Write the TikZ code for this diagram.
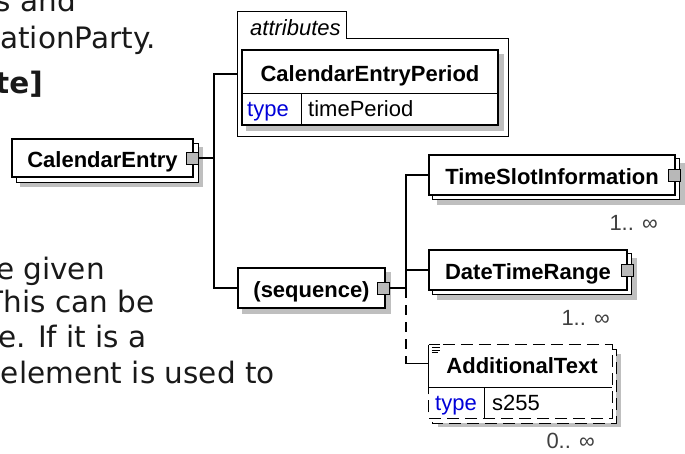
\documentclass[tikz,border=0pt]{standalone}
\usepackage{fontspec}
\setmainfont{Liberation Sans}
\newfontfamily\bgfont{DejaVu Sans}
\usetikzlibrary{backgrounds}
\begin{document}
\begin{tikzpicture}[x=1pt,y=-1pt,
  elbox/.style={draw, line width=1.2pt, fill=white, rectangle, inner sep=0pt,
    text height=18pt, text depth=0pt, font=\fontsize{22}{26}\selectfont\bfseries},
  plainbox/.style={draw, line width=1.2pt, fill=white, rectangle, inner sep=0pt},
  expander/.style={draw, line width=1pt, fill=black!28, rectangle,
    minimum width=12pt, minimum height=12pt, inner sep=0pt},
  conn/.style={line width=1.2pt},
  dconn/.style={line width=1.2pt, dash pattern=on 10pt off 7pt},
  dbox/.style={line width=1.2pt, dash pattern=on 12pt off 6pt},
  shadowc/.style={fill=black!25},
  lab/.style={font=\fontsize{22}{26}\selectfont, inner sep=0pt, anchor=base west},
  blab/.style={font=\fontsize{22}{26}\selectfont\bfseries, inner sep=0pt, anchor=base},
  bg/.style={font=\bgfont\fontsize{29.5}{35}\selectfont, inner sep=0pt, anchor=base east, text=black!90},
  card/.style={font=\fontsize{22}{26}\selectfont, inner sep=0pt, anchor=base east, text=black!75},
  typec/.style={text=blue!85!black}
]
\useasboundingbox (0,0) rectangle (685,453);
\clip (0,0) rectangle (685,453);

% background page text fragments
\node[bg] (bg1) at (76,11) {s and};
\node[bg] (bg2) at (156,48) {ationParty.};
\node[bg, font=\bgfont\fontsize{29.5}{35}\selectfont\bfseries] (bg3) at (43,93) {te]};
\node[bg] (bg4) at (105,279) {e given};
\node[bg] (bg5) at (155,312) {This can be};
\node[bg] (bg6) at (147,347) {e. If it is a};
\node[bg] (bg7) at (275,383) {element is used to};

% CalendarEntry
\node[elbox, minimum width=181pt, minimum height=38pt] (ce) at (102.5,158) {CalendarEntry};
\begin{scope}[on background layer]
  \fill[shadowc] ([shift={(9,9)}]ce.north west) rectangle ([shift={(9,9)}]ce.south east);
  \draw[line width=1.2pt, fill=white] ([shift={(5,5)}]ce.north west) rectangle ([shift={(5,5)}]ce.south east);
\end{scope}
\node[expander] (ceexp) at ([xshift=-1pt]ce.east) {};

% attributes group
\node[minimum width=270pt, minimum height=124pt, inner sep=0pt] (attr) at (373,74) {};
\draw[line width=1.2pt] (attr.north west) -- ++(109,0) -- ++(0,27) -| (attr.south east) -- (attr.south west) -- cycle;
\node[lab, font=\fontsize{22}{26}\selectfont\itshape] (attrlab) at (250,35) {attributes};
\node[plainbox, minimum width=256pt, minimum height=75pt] (cep) at (370,87.5) {};
\begin{scope}[on background layer]
  \fill[shadowc] ([shift={(5,5)}]cep.north west) rectangle ([shift={(5,5)}]cep.south east);
\end{scope}
\draw[line width=1.2pt] ([shift={(0,44)}]cep.north west) -- ([shift={(0,44)}]cep.north east);
\draw[line width=1.2pt] ([shift={(60,44)}]cep.north west) -- ([shift={(60,0)}]cep.south west);
\node[blab] (ceplab) at (370,81) {CalendarEntryPeriod};
\node[lab, typec] (ceptype) at (247,116) {type};
\node[lab] (cepval) at (308,116) {timePeriod};

% sequence
\node[elbox, minimum width=147pt, minimum height=40pt] (seq) at (311.5,288) {(sequence)};
\begin{scope}[on background layer]
  \fill[shadowc] ([shift={(5,5)}]seq.north west) rectangle ([shift={(5,5)}]seq.south east);
\end{scope}
\node[expander] (seqexp) at ([xshift=-2pt]seq.east) {};

% TimeSlotInformation
\node[elbox, minimum width=246pt, minimum height=40pt] (tsi) at (552,175) {TimeSlotInformation};
\begin{scope}[on background layer]
  \fill[shadowc] ([shift={(9,9)}]tsi.north west) rectangle ([shift={(9,9)}]tsi.south east);
  \draw[line width=1.2pt, fill=white] ([shift={(4,4)}]tsi.north west) rectangle ([shift={(4,4)}]tsi.south east);
\end{scope}
\node[expander] (tsiexp) at ([xshift=-1pt]tsi.east) {};
\node[card] (tsicard) at (658,230) {1.. ∞};

% DateTimeRange
\node[elbox, minimum width=198pt, minimum height=40pt] (dtr) at (528,270) {DateTimeRange};
\begin{scope}[on background layer]
  \fill[shadowc] ([shift={(9,9)}]dtr.north west) rectangle ([shift={(9,9)}]dtr.south east);
  \draw[line width=1.2pt, fill=white] ([shift={(4,4)}]dtr.north west) rectangle ([shift={(4,4)}]dtr.south east);
\end{scope}
\node[expander] (dtrexp) at ([xshift=0pt]dtr.east) {};
\node[card] (dtrcard) at (610,325) {1.. ∞};

% AdditionalText (optional, dashed)
\node[fill=white, minimum width=183pt, minimum height=73pt, inner sep=0pt] (addt) at (520.5,381.5) {};
\begin{scope}[on background layer]
  \fill[shadowc] ([shift={(9,9)}]addt.north west) rectangle ([shift={(9,9)}]addt.south east);
  \draw[dbox, fill=white] ([shift={(4,5)}]addt.north west) rectangle ([shift={(4,5)}]addt.south east);
\end{scope}
\draw[dbox] ([shift={(14,0)}]addt.north west) -- (addt.north east) -- (addt.south east) -- (addt.south west) -- ([shift={(0,43)}]addt.north west);
\draw[line width=1.2pt] (addt.north west) -- ([shift={(0,43)}]addt.north west) -- ([shift={(0,43)}]addt.north east);
\draw[line width=1.2pt] ([shift={(56,43)}]addt.north west) -- ([shift={(56,0)}]addt.south west);
\draw[line width=1pt] (addt.north west) -- ++(11,0)
  ([shift={(3,3)}]addt.north west) -- ++(8,0)
  ([shift={(3,5.5)}]addt.north west) -- ++(8,0)
  ([shift={(3,8)}]addt.north west) -- ++(6,0);
\node[blab] (addtlab) at (522,373) {AdditionalText};
\node[lab, typec] (addttype) at (435,410) {type};
\node[lab] (addtval) at (492,410) {s255};
\node[card] (addtcard) at (595,448) {0.. ∞};

% connectors
\coordinate (j1) at (214,158);
\coordinate (j2) at (406,288);
\coordinate (addin) at ([shift={(0,19)}]addt.north west);
\draw[conn] (ceexp.east) -- (j1);
\draw[conn] (attr.west) -| (j1);
\draw[conn] (seq.west) -| (j1);
\draw[conn] (seqexp.east) -- (j2);
\draw[conn] (tsi.west) -| (j2);
\draw[conn] (dtr.west) -| (j2);
\draw[dconn] (j2) -- (j2 |- addin);
\draw[conn] (j2 |- addin) -- (addin);
\end{tikzpicture}
\end{document}
